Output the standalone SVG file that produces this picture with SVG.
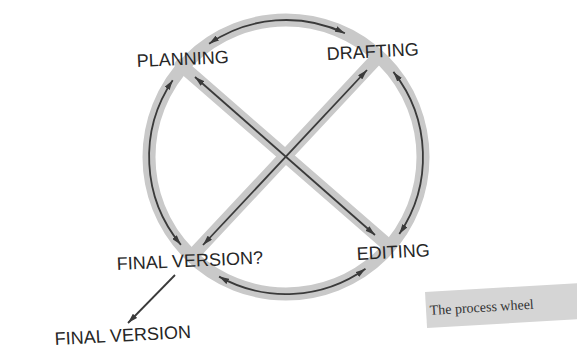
<svg xmlns="http://www.w3.org/2000/svg" width="577" height="351" viewBox="0 0 577 351">
  <style>
    .band { fill: none; stroke: #c9c9c9; stroke-width: 13; stroke-linecap: round; }
    .arr { fill: none; stroke: #3a3a3a; stroke-width: 1.8; marker-start: url(#ah); marker-end: url(#ah); }
    .one { fill: none; stroke: #3a3a3a; stroke-width: 1.8; marker-end: url(#ah); }
    .lbl { font-family: "Liberation Sans", Arial, sans-serif; font-size: 18px; fill: #262626; }
    .cap { font-family: "Liberation Serif", "Times New Roman", serif; font-size: 14px; fill: #333333; }
  </style>
  <defs>
    <marker id="ah" viewBox="0 0 10 6" refX="10" refY="3" markerWidth="10" markerHeight="6" markerUnits="userSpaceOnUse" orient="auto-start-reverse">
      <path d="M0,0 L10,3 L0,6 z" fill="#3a3a3a"/>
    </marker>
  </defs>
  <rect x="0" y="0" width="577" height="351" fill="#ffffff"/>

  <g id="wheel">
    <circle class="band" cx="286" cy="157" r="137"/>
    <line class="band" x1="181" y1="65" x2="389" y2="246"/>
    <line class="band" x1="378" y1="57" x2="192" y2="256"/>
  </g>

  <g id="connectors">
    <path class="arr" d="M209.1,43.7 A137,137 0 0 1 344.9,33.3"/>
    <path class="arr" d="M172.7,80.2 A137,137 0 0 0 180.9,244.8"/>
    <path class="arr" d="M393.4,71.9 A137,137 0 0 1 399.3,233.9"/>
    <path class="arr" d="M219.1,276.6 A137,137 0 0 0 365.5,268.7"/>
    <line class="arr" x1="195" y1="77" x2="375" y2="235"/>
    <line class="arr" x1="367" y1="70" x2="203" y2="245"/>
    <line class="one" x1="175" y1="275" x2="128" y2="323"/>
  </g>

  <g id="planning"><text class="lbl" x="137" y="67" transform="rotate(-2.5 137 67)">PLANNING</text></g>
  <g id="drafting"><text class="lbl" x="327" y="60" transform="rotate(-3 327 60)">DRAFTING</text></g>
  <g id="editing"><text class="lbl" x="357" y="260" transform="rotate(-3 357 260)">EDITING</text></g>
  <g id="final-version-q"><text class="lbl" x="117" y="270" transform="rotate(-2.5 117 270)">FINAL VERSION?</text></g>
  <g id="final-version"><text class="lbl" x="55" y="345" transform="rotate(-3 55 345)">FINAL VERSION</text></g>

  <g id="caption">
    <rect x="425" y="292" width="160" height="36" fill="#d5d5d5" transform="rotate(-3.3 425 292)"/>
    <text class="cap" x="430" y="315" transform="rotate(-3.5 430 315)">The process wheel</text>
  </g>
</svg>
